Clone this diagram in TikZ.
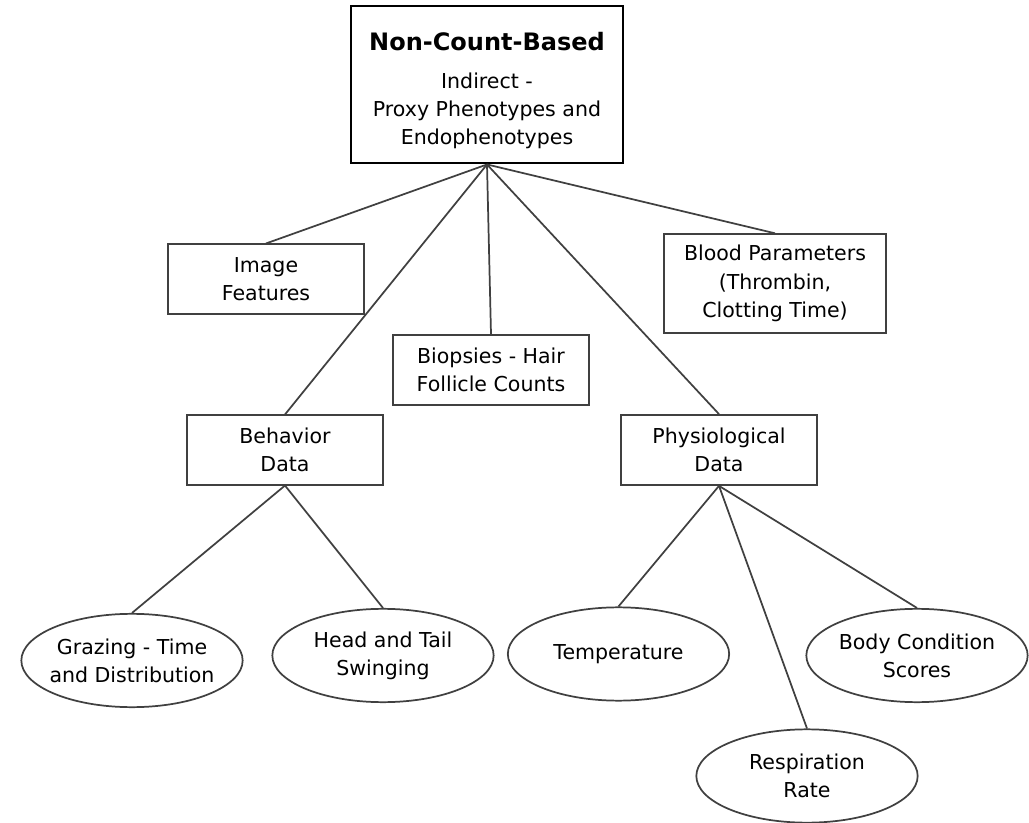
\documentclass[tikz,border=0pt]{standalone}
\usepackage{fontspec}
\setmainfont{DejaVu Sans}
\usetikzlibrary{shapes.geometric}

\tikzset{
  box/.style={draw=black!75, line width=1.3pt, rectangle, align=center, inner sep=0pt, minimum width=147pt, minimum height=52pt},
  oval/.style={draw=black!75, line width=1.3pt, ellipse, align=center, inner xsep=-4pt, inner ysep=0pt, minimum width=166pt, minimum height=70pt},
  link/.style={draw=black!75, line width=1.3pt}
}

\begin{document}
\begin{tikzpicture}[x=0.75pt, y=-0.75pt, font=\fontsize{15.4}{21.2}\selectfont]
  \useasboundingbox (0,0) rectangle (1029,823);
  % root
  \node[box, draw=black, line width=2.2pt, minimum width=204pt, minimum height=117.75pt] (top) at (487,84.5)
    {{\fontsize{18}{22}\selectfont\bfseries\rule{0pt}{23.3pt}Non-Count-Based}\\[7pt]Indirect -\\Proxy Phenotypes and\\Endophenotypes};
  % first level
  \node[box] (img) at (266,279) {Image\\Features};
  \node[box, minimum width=167pt, minimum height=74pt] (blood) at (775,283.5) {Blood Parameters\\(Thrombin,\\Clotting Time)};
  \node[box, minimum height=52.5pt] (bio) at (491,370) {Biopsies - Hair\\Follicle Counts};
  \node[box] (beh) at (285,450) {Behavior\\Data};
  \node[box, minimum height=52.5pt] (phys) at (719,450) {Physiological\\Data};
  % leaves
  \node[oval] (graz) at (132,660.5) {Grazing - Time\\and Distribution};
  \node[oval] (head) at (383,655.5) {Head and Tail\\Swinging};
  \node[oval] (temp) at (618.5,654) {Temperature};
  \node[oval] (body) at (917,655.5) {Body Condition\\Scores};
  \node[oval] (resp) at (807,776) {Respiration\\Rate};
  % links
  \draw[link] (top.south) -- (img.north);
  \draw[link] (top.south) -- (beh.north);
  \draw[link] (top.south) -- (bio.north);
  \draw[link] (top.south) -- (phys.north);
  \draw[link] (top.south) -- (blood.north);
  \draw[link] (beh.south) -- (graz.north);
  \draw[link] (beh.south) -- (head.north);
  \draw[link] (phys.south) -- (temp.north);
  \draw[link] (phys.south) -- (resp.north);
  \draw[link] (phys.south) -- (body.north);
\end{tikzpicture}
\end{document}
